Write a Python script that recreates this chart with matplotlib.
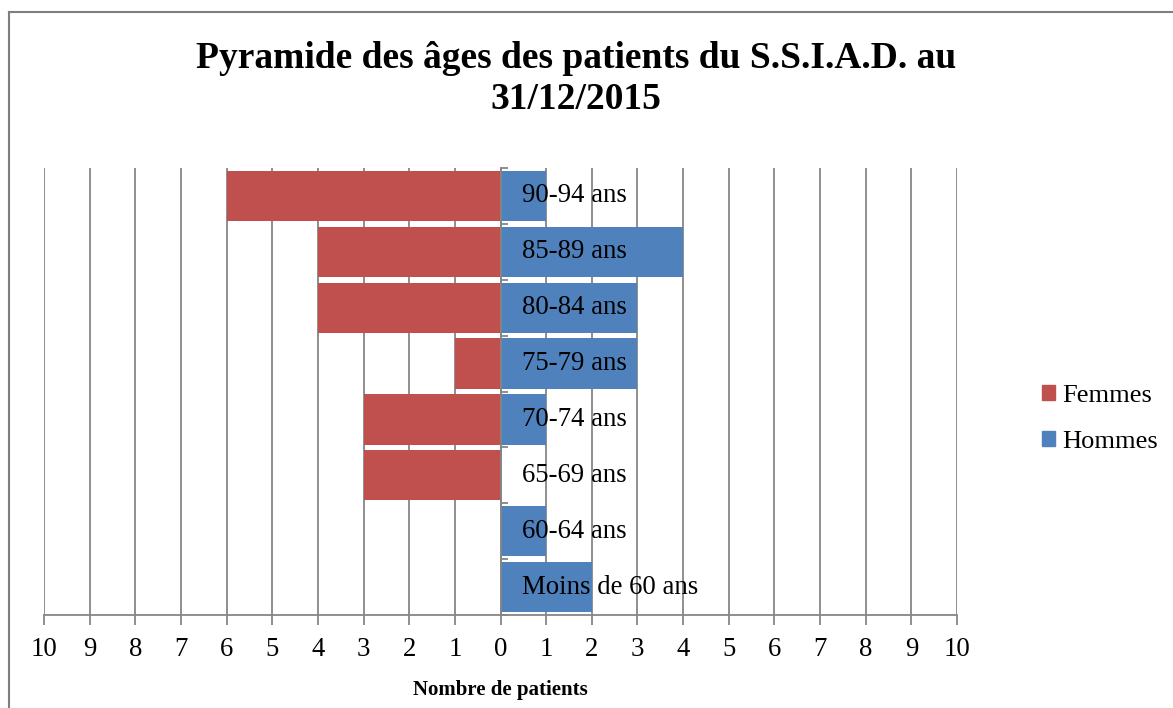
import matplotlib
matplotlib.use("Agg")
import matplotlib.pyplot as plt
from matplotlib.lines import Line2D
from matplotlib.patches import Patch

plt.rcParams['font.family'] = ['Liberation Serif', 'DejaVu Serif']

categories = ["Moins de 60 ans", "60-64 ans", "65-69 ans", "70-74 ans",
              "75-79 ans", "80-84 ans", "85-89 ans", "90-94 ans"]
femmes = [0, 0, 3, 3, 1, 4, 4, 6]
hommes = [2, 1, 0, 1, 3, 3, 4, 1]
xticks = list(range(-10, 11))
title = "Pyramide des âges des patients du S.S.I.A.D. au\n31/12/2015"

red = "#C0504D"
blue = "#4F81BD"
grid = "#868686"

fig = plt.figure(figsize=(11.73, 7.08), dpi=100)
W, H = 1173, 708
ax = fig.add_axes([44 / W, (H - 615) / H, (957 - 44) / W, (615 - 168) / H])

ypos = list(range(len(categories)))
ax.barh(ypos, [-v for v in femmes], height=0.9, color=red, zorder=2, label="Femmes")
ax.barh(ypos, hommes, height=0.9, color=blue, zorder=2, label="Hommes")

ax.set_xlim(-10, 10)
ax.set_ylim(-0.5, len(categories) - 0.5)
ax.set_xticks(xticks)
ax.set_xticklabels([str(abs(t)) for t in xticks], fontsize=19.3)
for t in xticks:
    ax.axvline(t, color=grid, lw=1.3, zorder=1)

for s in ['top', 'right']:
    ax.spines[s].set_visible(False)
ax.spines['bottom'].set_color(grid)
ax.spines['bottom'].set_linewidth(1.3)
ax.spines['left'].set_position(('data', 0))
ax.spines['left'].set_color(grid)
ax.spines['left'].set_linewidth(1.3)
ax.spines['left'].set_zorder(3)
ax.set_yticks([k - 0.5 for k in range(len(categories) + 1)])
ax.set_yticklabels([])
ax.tick_params(axis='y', direction='in', length=5, color=grid, width=1.3)
ax.tick_params(axis='x', direction='out', length=7, color=grid, width=1.3, pad=9)

for y, c in zip(ypos, categories):
    ax.annotate(c, xy=(0, y), xytext=(22, 0), textcoords='offset pixels',
                ha='left', va='center', fontsize=19.3, zorder=4)

ax.set_xlabel("Nombre de patients", fontsize=15, fontweight='bold', labelpad=13)

fig.text(576 / W, 1 - 79 / H, title, ha='center', va='center',
         fontsize=27, fontweight='bold', linespacing=1.25)

handles = [Patch(color=red), Patch(color=blue)]
fig.legend(handles, ["Femmes", "Hommes"], loc='center left',
           bbox_to_anchor=(1037 / W, 1 - 419 / H), frameon=False, fontsize=19,
           handlelength=0.5, handleheight=0.5, handletextpad=0.25, labelspacing=0.9,
           borderaxespad=0, borderpad=0.2)

# outer frame (left and top)
fig.add_artist(Line2D([8.5 / W, 8.5 / W], [0, 1 - 12 / H], transform=fig.transFigure,
                      color="#7f7f7f", lw=1.5))
fig.add_artist(Line2D([8.5 / W, 1], [1 - 12 / H, 1 - 12 / H], transform=fig.transFigure,
                      color="#7f7f7f", lw=1.5))

fig.savefig("out.png", dpi=100)
